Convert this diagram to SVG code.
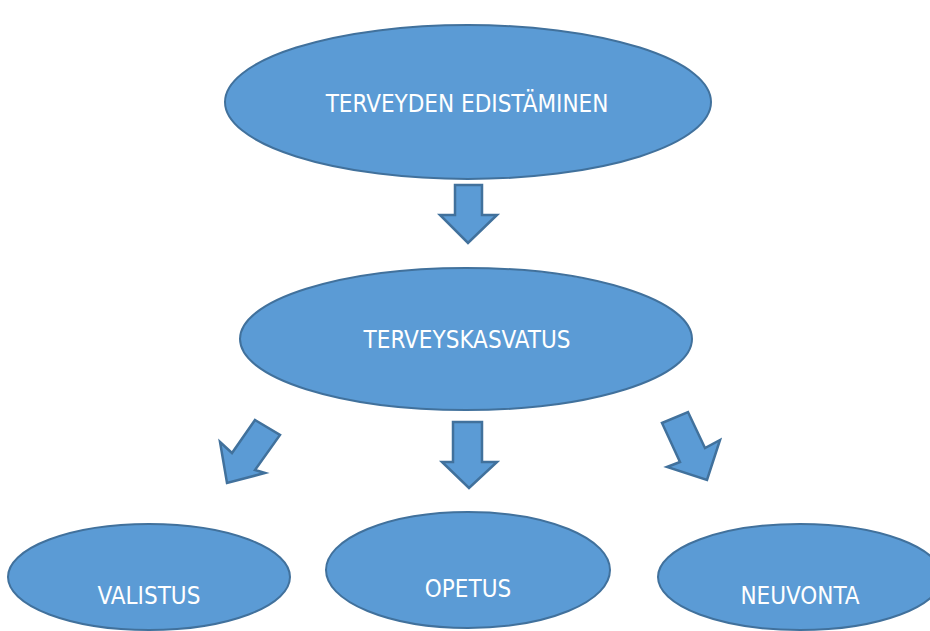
<svg xmlns="http://www.w3.org/2000/svg" width="930" height="631" viewBox="0 0 930 631">
<style>
.n{fill:#5B9BD5;stroke:#41719C;stroke-width:2}
.a{fill:#5B9BD5;stroke:#41719C;stroke-width:2.5;stroke-linejoin:miter}
.t{font-family:"DejaVu Sans Condensed","DejaVu Sans",sans-serif;font-size:24px;fill:#FFFFFF;text-anchor:middle}
</style>
<rect width="930" height="631" fill="#FFFFFF"/>
<g id="connectors">
<polygon class="a" points="455,185 482,185 482,215 497,215 468,243 440,215 455,215"/>
<polygon class="a" points="453,422 482,422 482,462 497,462 469,488 442,462 453,462"/>
<polygon class="a" points="255,420 280,435 255,470 265,473 227,483 220,442 232,453"/>
<polygon class="a" points="662,423 688,412 705,448 720,440 707,480 667,467 680,462"/>
</g>
<g id="node-edistaminen">
<ellipse class="n" cx="468" cy="102" rx="243" ry="77"/>
<text class="t" x="467" y="112">TERVEYDEN EDISTÄMINEN</text>
</g>
<g id="node-terveyskasvatus">
<ellipse class="n" cx="466" cy="339" rx="226" ry="71"/>
<text class="t" x="467" y="348">TERVEYSKASVATUS</text>
</g>
<g id="node-valistus">
<ellipse class="n" cx="149" cy="577" rx="141" ry="53"/>
<text class="t" x="149" y="604">VALISTUS</text>
</g>
<g id="node-opetus">
<ellipse class="n" cx="468" cy="570" rx="142" ry="58"/>
<text class="t" x="468" y="597">OPETUS</text>
</g>
<g id="node-neuvonta">
<ellipse class="n" cx="800" cy="577" rx="142" ry="53"/>
<text class="t" x="800" y="604">NEUVONTA</text>
</g>
</svg>
